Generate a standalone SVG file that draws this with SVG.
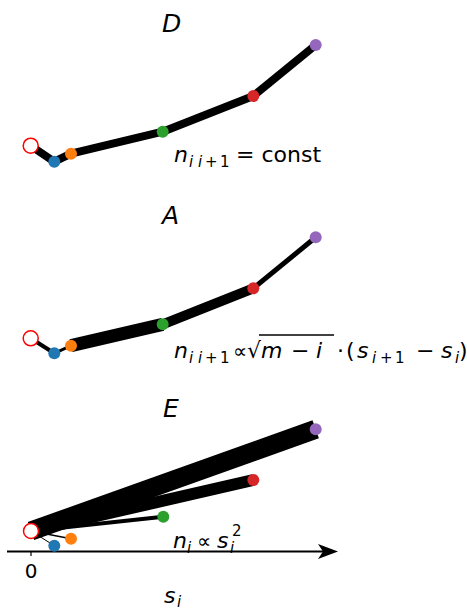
<svg xmlns="http://www.w3.org/2000/svg" width="467" height="608" viewBox="0 0 467 608">
<style>
text{font-family:"DejaVu Sans","Liberation Sans",sans-serif;fill:#000}
.t{font-size:25px;font-style:italic}
.m{font-size:22px}
.it{font-style:italic}
.sub{font-size:15px}
.c line{stroke:#000;stroke-linecap:butt}
.o{fill:#fff;stroke:#ff0000;stroke-width:1.5}
.b{fill:#1f77b4}.or{fill:#ff7f0e}.g{fill:#2ca02c}.r{fill:#d62728}.p{fill:#9467bd}
</style>
<rect width="467" height="608" fill="#fff"/>
<g id="connectors" class="c">
<line x1="30.7" y1="145.7" x2="54.3" y2="161.7" stroke-width="8"/>
<line x1="54.3" y1="161.7" x2="71" y2="153.7" stroke-width="8"/>
<line x1="71" y1="153.7" x2="162.7" y2="131.7" stroke-width="8"/>
<line x1="162.7" y1="131.7" x2="253.3" y2="96" stroke-width="8"/>
<line x1="253.3" y1="96" x2="315.7" y2="45" stroke-width="8"/>
<line x1="30.7" y1="338.3" x2="54.3" y2="353.3" stroke-width="4"/>
<line x1="54.3" y1="353.3" x2="71" y2="345.7" stroke-width="3"/>
<line x1="71" y1="345.7" x2="162.7" y2="324.3" stroke-width="13"/>
<line x1="162.7" y1="324.3" x2="253.3" y2="288.3" stroke-width="10"/>
<line x1="253.3" y1="288.3" x2="315.7" y2="237.3" stroke-width="5"/>
<line x1="31" y1="531" x2="315.7" y2="429.3" stroke-width="19"/>
<line x1="31" y1="531" x2="253.3" y2="480" stroke-width="12"/>
<line x1="31" y1="531" x2="163.3" y2="516.7" stroke-width="4"/>
<line x1="31" y1="531" x2="71" y2="538.7" stroke-width="1.5"/>
<line x1="31" y1="531" x2="54.3" y2="545.7" stroke-width="1"/>
<line x1="7" y1="551.5" x2="330" y2="551.5" stroke-width="2"/>
<line x1="31" y1="551.5" x2="31" y2="556" stroke-width="1.2"/>
<path d="M338,551.5 L318,544 L323,551.5 L318,559 Z" fill="#000"/>
</g>
<g id="panelD">
<text class="t" x="162" y="32">D</text>
<circle id="D0" class="o" cx="30.7" cy="145.7" r="7.5"/>
<circle id="D1" class="b" cx="54.3" cy="161.7" r="6"/>
<circle id="D2" class="or" cx="71" cy="153.7" r="6"/>
<circle id="D3" class="g" cx="162.7" cy="131.7" r="6"/>
<circle id="D4" class="r" cx="253.3" cy="96" r="6"/>
<circle id="D5" class="p" cx="315.7" cy="45" r="6"/>
<text class="m" y="162"><tspan class="it" x="174">n</tspan><tspan class="sub it" x="189" y="167">i</tspan><tspan class="sub it" x="198">i</tspan><tspan class="sub" x="205">+</tspan><tspan class="sub" x="220">1</tspan><tspan x="236" y="162">= const</tspan></text>
</g>
<g id="panelA">
<text class="t" x="162" y="224">A</text>
<circle id="A0" class="o" cx="30.7" cy="338.3" r="7.5"/>
<circle id="A1" class="b" cx="54.3" cy="353.3" r="6"/>
<circle id="A2" class="or" cx="71" cy="345.7" r="6"/>
<circle id="A3" class="g" cx="162.7" cy="324.3" r="6"/>
<circle id="A4" class="r" cx="253.3" cy="288.3" r="6"/>
<circle id="A5" class="p" cx="315.7" cy="237.3" r="6"/>
<text class="m" y="358"><tspan class="it" x="174">n</tspan><tspan class="sub it" x="189" y="363">i</tspan><tspan class="sub it" x="198">i</tspan><tspan class="sub" x="205">+</tspan><tspan class="sub" x="220">1</tspan><tspan x="233" y="358" font-size="20">∝</tspan><tspan x="247">√</tspan><tspan class="it" x="261">m</tspan><tspan x="291">−</tspan><tspan class="it" x="316">i</tspan><tspan x="337">·</tspan><tspan x="346">(</tspan><tspan class="it" x="357">s</tspan><tspan class="sub it" x="372" y="363">i</tspan><tspan class="sub" x="380">+</tspan><tspan class="sub" x="395">1</tspan><tspan x="416" y="358">−</tspan><tspan class="it" x="441">s</tspan><tspan class="sub it" x="455" y="363">i</tspan><tspan x="459" y="358">)</tspan></text>
<line x1="259" y1="335" x2="334" y2="335" stroke="#000" stroke-width="1.5"/>
</g>
<g id="panelE">
<text class="t" x="163" y="417">E</text>
<circle id="E0" class="o" cx="31" cy="531" r="7.5"/>
<circle id="E1" class="b" cx="54.3" cy="545.7" r="6"/>
<circle id="E2" class="or" cx="71" cy="538.7" r="6"/>
<circle id="E3" class="g" cx="163.3" cy="516.7" r="6"/>
<circle id="E4" class="r" cx="253.3" cy="480" r="6"/>
<circle id="E5" class="p" cx="315.7" cy="429.3" r="6"/>
<text class="m" y="548"><tspan class="it" x="173">n</tspan><tspan class="sub it" x="187" y="553">i</tspan><tspan x="197" y="548" font-size="20">∝</tspan><tspan class="it" x="217">s</tspan><tspan class="sub it" x="230" y="553">i</tspan><tspan class="sub" x="232" y="536">2</tspan></text>
<text x="31" y="578" text-anchor="middle" style="font-size:20px">0</text>
<text class="m" y="603"><tspan class="it" x="164">s</tspan><tspan class="sub it" x="177" y="607">i</tspan></text>
</g>
</svg>
